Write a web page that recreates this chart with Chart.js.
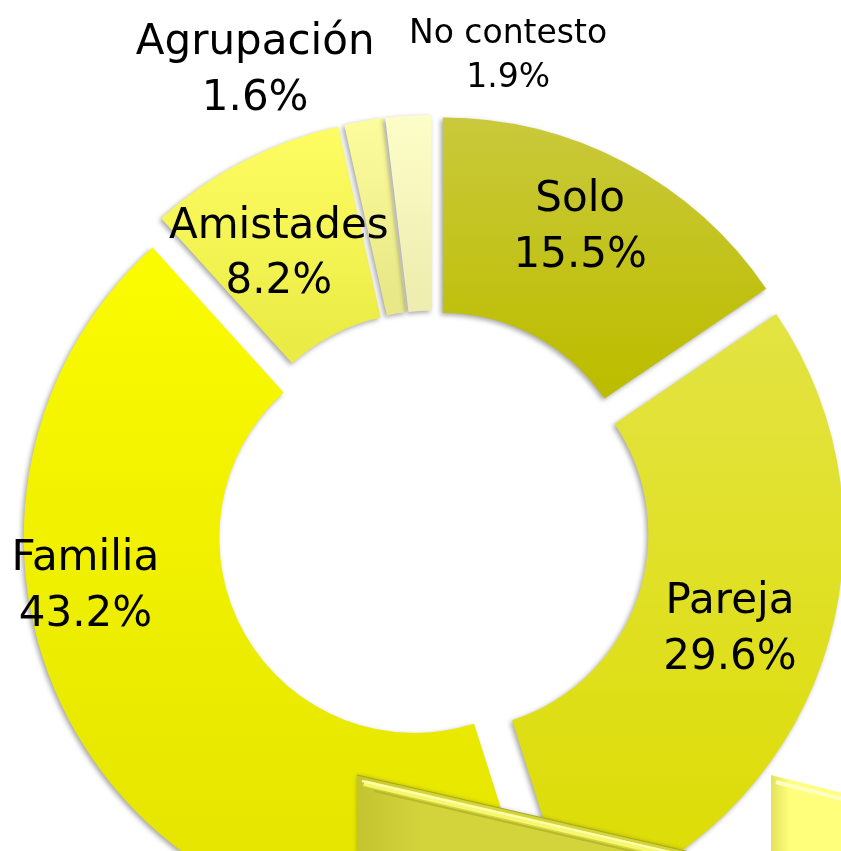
<!DOCTYPE html>
<html lang="es">
<head>
<meta charset="utf-8">
<title>Con quién viaja</title>
<script src="https://cdn.jsdelivr.net/npm/chart.js@4/dist/chart.umd.min.js"></script>
<style>
    html, body { margin: 0; padding: 0; background: #ffffff; overflow: hidden; }
    #wrap { position: absolute; left: 0; top: 0; width: 866px; height: 1054px; }
</style>
</head>
<body>
<div id="wrap"><canvas id="compChart"></canvas></div>
<script>
// Datos del gráfico
const categorias = ['Solo', 'Pareja', 'Familia', 'Amistades', 'Agrupación', 'No contesto'];
const porcentajes = [15.5, 29.6, 43.2, 8.2, 1.6, 1.9];

// Colores (arriba -> abajo de cada porción)
const coloresArriba = ['#caca40', '#e3e343', '#fbfb00', '#ffff66', '#ffffa0', '#ffffcc'];
const coloresAbajo = ['#bdbd00', '#dcdc00', '#e2e200', '#ebeb45', '#e8e888', '#eeeeb0'];

const RADIO = 391;      // radio exterior en px
const SEPARACION = 21;  // desplazamiento de cada porción

// posición de cada etiqueta: [ángulo desde arriba (grados), distancia al centro (px), tamaño fuente]
const posEtiquetas = [[25.9, 337, 42], [108.4, 313, 42], [260.9, 352, 42], [330.9, 317, 42], [338.9, 494, 42], [9.0, 480, 33]];

function gradientePorcion(context) {
    const chart = context.chart;
    const i = context.dataIndex;
    const area = chart.chartArea;
    if (!area) return coloresAbajo[i];
    const cx = (area.left + area.right) / 2;
    const cy = (area.top + area.bottom) / 2;
    const total = porcentajes.reduce((a, b) => a + b, 0);
    let inicio = 0;
    for (let k = 0; k < i; k++) inicio += porcentajes[k];
    const a0 = inicio / total * Math.PI * 2;
    const a1 = (inicio + porcentajes[i]) / total * Math.PI * 2;
    const dy = -Math.cos((a0 + a1) / 2) * SEPARACION;
    let yMin = Infinity, yMax = -Infinity;
    for (let s = 0; s <= 24; s++) {
        const a = a0 + (a1 - a0) * s / 24;
        [RADIO / 2, RADIO].forEach(function(r) {
            const y = cy + dy - r * Math.cos(a);
            yMin = Math.min(yMin, y);
            yMax = Math.max(yMax, y);
        });
    }
    const g = chart.ctx.createLinearGradient(0, yMin, 0, yMax);
    g.addColorStop(0, coloresArriba[i]);
    g.addColorStop(1, coloresAbajo[i]);
    return g;
}

// Dibuja las porciones separadas (con sombra suave)
const porcionesSeparadas = {
    id: 'porcionesSeparadas',
    beforeDatasetsDraw(chart) {
        const ctx = chart.ctx;
        chart.getDatasetMeta(0).data.forEach(function(arc) {
            const mid = (arc.startAngle + arc.endAngle) / 2;
            ctx.save();
            ctx.translate(Math.cos(mid) * SEPARACION, Math.sin(mid) * SEPARACION);
            ctx.shadowColor = 'rgba(0, 0, 0, 0.35)';
            ctx.shadowBlur = 5;
            ctx.shadowOffsetX = -2;
            ctx.shadowOffsetY = 2;
            arc.draw(ctx, chart.chartArea);
            ctx.restore();
        });
        return false;
    },
    afterDraw(chart) {
        const ctx = chart.ctx;
        const meta = chart.getDatasetMeta(0);
        const arc0 = meta.data[0];
        const cx = arc0.x, cy = arc0.y;

        // formas decorativas de la diapositiva (abajo)
        ctx.save();
        ctx.shadowColor = 'rgba(0, 0, 0, 0.25)';
        ctx.shadowBlur = 4;
        ctx.beginPath();
        ctx.moveTo(357, 775);
        ctx.lineTo(690, 852);
        ctx.lineTo(357, 852);
        ctx.closePath();
        const g1 = ctx.createLinearGradient(357, 0, 420, 0);
        g1.addColorStop(0, '#c4c430');
        g1.addColorStop(1, '#d3d33c');
        ctx.fillStyle = g1;
        ctx.fill();
        ctx.shadowColor = 'transparent';
        ctx.lineWidth = 6;
        ctx.strokeStyle = '#f6f670';
        ctx.beginPath();
        ctx.moveTo(364, 783);
        ctx.lineTo(700, 861);
        ctx.stroke();
        ctx.lineWidth = 2;
        ctx.strokeStyle = '#ffffb0';
        ctx.beginPath();
        ctx.moveTo(362, 781);
        ctx.lineTo(700, 859);
        ctx.stroke();
        ctx.lineWidth = 2;
        ctx.strokeStyle = '#b8b82c';
        ctx.beginPath();
        ctx.moveTo(374, 791);
        ctx.lineTo(700, 867);
        ctx.stroke();
        ctx.lineWidth = 1;
        ctx.strokeStyle = '#a8a820';
        ctx.beginPath();
        ctx.moveTo(357, 775);
        ctx.lineTo(690, 852);
        ctx.stroke();

        ctx.beginPath();
        ctx.moveTo(771, 775);
        ctx.lineTo(842, 793);
        ctx.lineTo(842, 852);
        ctx.lineTo(771, 852);
        ctx.closePath();
        const g2 = ctx.createLinearGradient(771, 0, 790, 0);
        g2.addColorStop(0, '#e2e25a');
        g2.addColorStop(1, '#ffff7c');
        ctx.fillStyle = g2;
        ctx.fill();
        ctx.lineWidth = 4;
        ctx.strokeStyle = '#ffffc4';
        ctx.beginPath();
        ctx.moveTo(776, 782);
        ctx.lineTo(842, 799);
        ctx.stroke();
        ctx.restore();

        // etiquetas
        ctx.save();
        ctx.fillStyle = '#000000';
        ctx.textAlign = 'center';
        ctx.textBaseline = 'alphabetic';
        categorias.forEach(function(nombre, i) {
            const [ang, dist, fs] = posEtiquetas[i];
            const a = ang * Math.PI / 180;
            const x = cx + Math.sin(a) * dist;
            const y = cy - Math.cos(a) * dist;
            const alto = fs * 1.33;
            ctx.font = fs + 'px "DejaVu Sans", Verdana, sans-serif';
            ctx.fillText(nombre, x, y - alto / 2 + fs * 0.37);
            ctx.fillText(porcentajes[i].toFixed(1) + '%', x, y + alto / 2 + fs * 0.37);
        });
        ctx.restore();
    }
};

document.addEventListener('DOMContentLoaded', function() {
    const ctx = document.getElementById('compChart').getContext('2d');
    new Chart(ctx, {
        type: 'doughnut',
        data: {
            labels: categorias,
            datasets: [{
                data: porcentajes,
                backgroundColor: gradientePorcion,
                borderWidth: 0
            }]
        },
        options: {
            responsive: true,
            maintainAspectRatio: false,
            animation: false,
            radius: RADIO,
            cutout: '50%',
            layout: { padding: 0 },
            plugins: {
                legend: { display: false },
                tooltip: { enabled: false }
            },
            events: []
        },
        plugins: [porcionesSeparadas]
    });
});
</script>
</body>
</html>
